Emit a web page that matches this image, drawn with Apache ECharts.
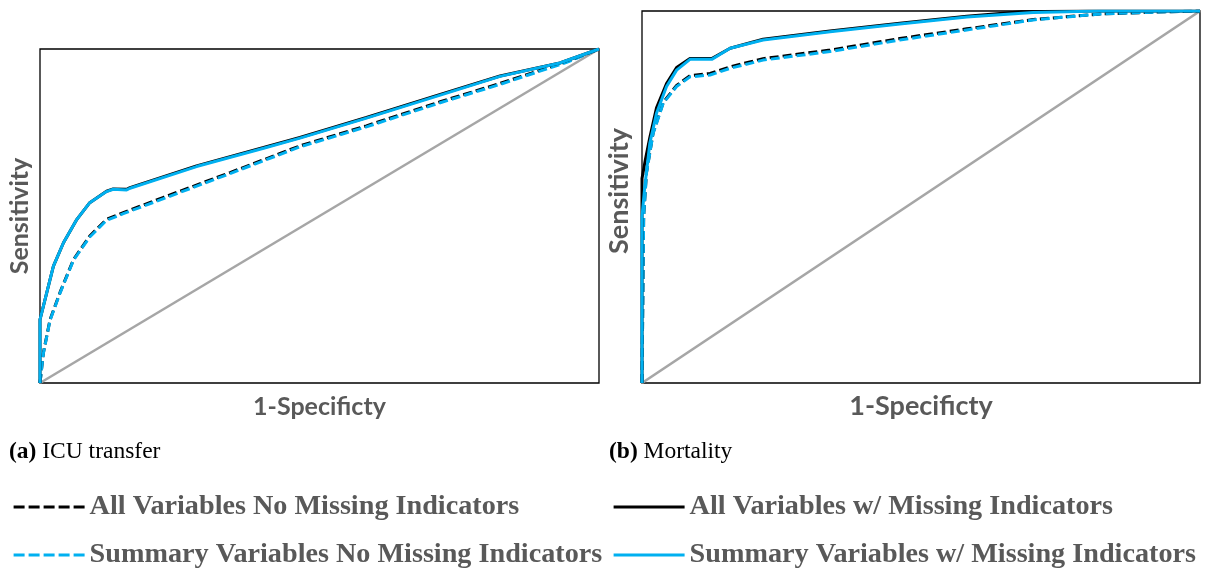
<!DOCTYPE html>
<html>
<head>
<meta charset="utf-8">
<script src="https://cdn.jsdelivr.net/npm/echarts@6/dist/echarts.min.js"></script>
<style>
html,body{margin:0;padding:0;background:#fff;}
#c{width:1210px;height:571px;}
</style>
</head>
<body>
<div id="c"></div>
<script>
// ---- Data: ROC curves as [1-specificity, sensitivity] ----
const icuAllNoMI = [[0,0],[0.006,0.09],[0.018,0.19],[0.036,0.272],[0.06,0.37],[0.089,0.44],[0.119,0.49],[0.149,0.51],[0.221,0.556],[0.34,0.63],[0.465,0.71],[0.584,0.77],[0.716,0.842],[0.823,0.897],[0.942,0.962],[1,1]];
const icuSumNoMI = [[0,0],[0.006,0.088],[0.018,0.188],[0.036,0.27],[0.06,0.368],[0.089,0.437],[0.119,0.487],[0.149,0.507],[0.221,0.552],[0.34,0.627],[0.465,0.707],[0.584,0.767],[0.716,0.839],[0.823,0.894],[0.942,0.96],[1,1]];
const icuAllMI = [[0,0],[0,0.19],[0.012,0.27],[0.024,0.35],[0.042,0.42],[0.066,0.49],[0.089,0.54],[0.119,0.574],[0.131,0.581],[0.155,0.58],[0.161,0.585],[0.28,0.65],[0.40,0.705],[0.465,0.735],[0.584,0.795],[0.716,0.864],[0.823,0.919],[0.93,0.958],[1,1]];
const icuSumMI = [[0,0],[0,0.19],[0.012,0.27],[0.024,0.35],[0.042,0.42],[0.066,0.49],[0.089,0.54],[0.119,0.573],[0.131,0.58],[0.155,0.578],[0.161,0.583],[0.28,0.648],[0.40,0.703],[0.465,0.733],[0.584,0.793],[0.716,0.862],[0.823,0.918],[0.93,0.958],[1,1]];

const morAllNoMI = [[0,0],[0.003,0.45],[0.008,0.566],[0.02,0.673],[0.038,0.754],[0.062,0.8],[0.086,0.826],[0.122,0.832],[0.158,0.85],[0.217,0.872],[0.337,0.895],[0.462,0.926],[0.582,0.952],[0.701,0.977],[0.821,0.992],[0.94,0.998],[1,1]];
const morSumNoMI = [[0,0],[0.003,0.447],[0.008,0.564],[0.02,0.671],[0.038,0.752],[0.062,0.797],[0.086,0.823],[0.122,0.828],[0.158,0.846],[0.217,0.868],[0.337,0.891],[0.462,0.922],[0.582,0.949],[0.701,0.976],[0.821,0.992],[0.94,0.998],[1,1]];
const morAllMI = [[0,0],[0,0.55],[0.006,0.6],[0.014,0.66],[0.026,0.74],[0.044,0.805],[0.062,0.848],[0.086,0.872],[0.125,0.872],[0.158,0.9],[0.217,0.924],[0.337,0.946],[0.462,0.967],[0.582,0.986],[0.68,0.998],[0.8,1],[1,1]];
const morSumMI = [[0,0],[0,0.447],[0.005,0.528],[0.014,0.644],[0.026,0.725],[0.044,0.797],[0.062,0.841],[0.086,0.87],[0.125,0.87],[0.158,0.9],[0.217,0.922],[0.337,0.944],[0.462,0.965],[0.582,0.984],[0.701,0.996],[0.82,1],[1,1]];

const chance = [[0,0],[1,1]];

const seriesNames = ['All Variables No Missing Indicators','Summary Variables No Missing Indicators','All Variables w/ Missing Indicators','Summary Variables w/ Missing Indicators'];
const captions = ['ICU transfer','Mortality'];
const xTitle = '1-Specificty';
const yTitle = 'Sensitivity';

// ---- Styles ----
const BLACK = '#000000', CYAN = '#00B0F0', GRAY = '#A6A6A6';
const dash = [9,4];
const lw = 3;

function line(name, data, color, dashed, gi){
  return {
    name: name, type: 'line', data: data, xAxisIndex: gi, yAxisIndex: gi,
    symbol: 'none', smooth: false, silent: true,
    lineStyle: {color: color, width: lw, type: dashed ? dash : 'solid'},
    itemStyle: {color: color}
  };
}
function diag(gi){
  return {type:'line', data: chance, xAxisIndex: gi, yAxisIndex: gi, symbol:'none', silent:true,
    lineStyle:{color: GRAY, width: 2.6}, z: 1};
}

const nameFont = 'Lato';
function xAx(gi, size, gap){
  return {type:'value', gridIndex: gi, min:0, max:1, axisLine:{show:false}, axisTick:{show:false},
    axisLabel:{show:false}, splitLine:{show:false}, name: xTitle, nameLocation:'middle', nameGap: gap,
    nameTextStyle:{fontFamily: nameFont, fontWeight:'bold', fontSize: size, color:'#595959'}};
}
function yAx(gi, size, gap, pad){
  return {type:'value', gridIndex: gi, min:0, max:1, axisLine:{show:false}, axisTick:{show:false},
    axisLabel:{show:false}, splitLine:{show:false}, name: yTitle, nameLocation:'middle', nameGap: gap,
    nameRotate: 90,
    nameTextStyle:{fontFamily: nameFont, fontWeight:'bold', fontSize: size, color:'#595959', padding: pad}};
}

const legendText = {fontFamily:'Liberation Serif', fontWeight:'bold', fontSize: 28.2, color:'#595959'};
function leg(name, left, top, dashed){
  return {data:[name], left: left, top: top, padding: 0, itemWidth: 71, itemHeight: 14, itemGap: 0,
    textStyle: legendText, selectedMode: false,
    itemStyle: {opacity: 0, borderWidth: 0},
    lineStyle: dashed ? {width: 3.2, type: [11,4]} : {width: 3.2}};
}

const chart = echarts.init(document.getElementById('c'), null, {renderer:'canvas'});
chart.setOption({
  animation: false,
  backgroundColor: '#fff',
  title: [
    {text: '{b|(a)} ' + captions[0], left: 4, top: 435,
      textStyle:{fontFamily:'Liberation Serif', fontWeight:'normal', fontSize: 23.5, color:'#000',
        rich:{b:{fontFamily:'Liberation Serif', fontWeight:'bold', fontSize:23.5, color:'#000'}}}},
    {text: '{b|(b)} ' + captions[1], left: 604, top: 435,
      textStyle:{fontFamily:'Liberation Serif', fontWeight:'normal', fontSize: 23.5, color:'#000',
        rich:{b:{fontFamily:'Liberation Serif', fontWeight:'bold', fontSize:23.5, color:'#000'}}}}
  ],
  grid: [
    {left: 40, top: 49, width: 559, height: 334, show: true, borderColor:'#000', borderWidth: 1.3, backgroundColor:'transparent'},
    {left: 642, top: 11, width: 558, height: 372, show: true, borderColor:'#000', borderWidth: 1.3, backgroundColor:'transparent'}
  ],
  xAxis: [xAx(0, 25, 11), xAx(1, 27, 10)],
  yAxis: [yAx(0, 25, 8, 0), yAx(1, 27, 9, [0,0,0,12])],
  legend: [
    leg(seriesNames[0], 12, 493, true),
    leg(seriesNames[1], 12, 541, true),
    leg(seriesNames[2], 612, 493, false),
    leg(seriesNames[3], 612, 541, false)
  ],
  series: [
    diag(0), diag(1),
    line(seriesNames[0], icuAllNoMI, BLACK, true, 0),
    line(seriesNames[1], icuSumNoMI, CYAN, true, 0),
    line(seriesNames[2], icuAllMI, BLACK, false, 0),
    line(seriesNames[3], icuSumMI, CYAN, false, 0),
    line(seriesNames[0], morAllNoMI, BLACK, true, 1),
    line(seriesNames[1], morSumNoMI, CYAN, true, 1),
    line(seriesNames[2], morAllMI, BLACK, false, 1),
    line(seriesNames[3], morSumMI, CYAN, false, 1)
  ]
});
</script>
</body>
</html>
